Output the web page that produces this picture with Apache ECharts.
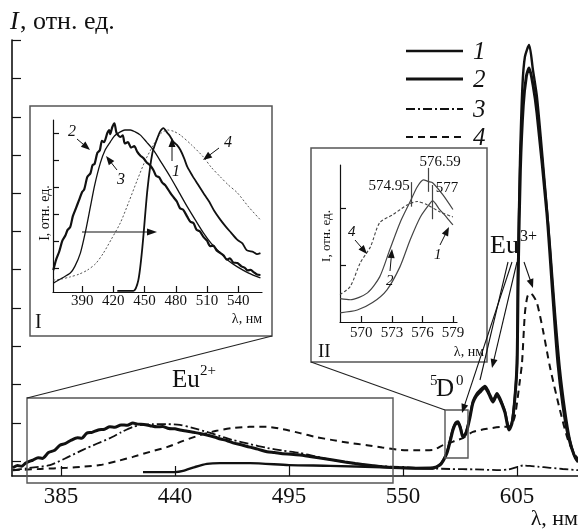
<!DOCTYPE html>
<html><head><meta charset="utf-8">
<script src="https://cdn.jsdelivr.net/npm/echarts@6/dist/echarts.min.js"></script>
<style>html,body{margin:0;padding:0;background:#fff}#c{width:578px;height:531px}</style>
</head><body><div id="c"></div>
<script>
// ---------- DATA ----------
const mainTicks = [385, 440, 495, 550, 605];
const inset1Ticks = [390, 420, 450, 480, 510, 540];
const inset2Ticks = [570, 573, 576, 579];
const legendLabels = ['1', '2', '3', '4'];
const mainYTicks = [0.38, 1.36, 2.34, 3.32, 4.3, 5.29, 6.27, 7.25, 8.23, 9.21, 10.2, 11.18];
const in1YTicks = [0.89, 1.89, 2.89, 3.89, 4.89, 5.89];
const in2YTicks = [1, 2];

// main plot: [wavelength nm, intensity (arb.)]
const main1 = [[424.6,0.10],[440,0.10],[443.9,0.13],[449.6,0.23],[455.4,0.31],[461.7,0.33],[476.2,0.33],[495,0.28],[514.8,0.26],[548.5,0.21],[564.5,0.19],
 [567.8,0.30],[569.5,0.42],[571.2,0.62],[572.8,0.95],[574.1,1.22],[575.3,1.37],[576.5,1.40],[577.7,1.26],[578.9,1.04],[580,1.08],[580.9,1.22],[582.3,1.55],[583.7,1.92],[585.4,2.1],[587.1,2.2],[589.5,2.31],[591,2.2],[592,2.08],[593.4,1.95],[595.3,2.12],[596.8,2.0],[598,1.84],[599.2,1.66],[600.2,1.4],[601.1,1.22],[602.6,1.4],[604,2.05],[605,2.9],[605.5,5.46],[606.4,8.03],[607.6,10.0],[608.8,10.75],[610.8,11.05],[612.7,10.4],[614.6,9.72],[617.5,8.03],[620.9,5.87],[623.3,4.18],[625.7,2.72],[628.1,1.69],[630.5,0.92],[633,0.46],[634.4,0.35]];
const main2 = [[361.8,0.21],[364,0.27],[366,0.25],[368,0.33],[371.5,0.41],[374,0.47],[376,0.45],[379,0.6],[382,0.66],[384.5,0.79],[387,0.83],[390,0.92],[393,0.98],[395,0.97],[397.5,1.1],[400,1.12],[403,1.18],[406,1.2],[408.6,1.26],[411,1.25],[414,1.31],[417,1.3],[419.7,1.36],[422,1.33],[425,1.32],[428,1.29],[431.3,1.26],[434,1.27],[437,1.22],[440,1.21],[442.4,1.18],[446,1.15],[449,1.12],[452,1.09],[455.4,1.05],[459,1.0],[462,0.95],[465,0.91],[468,0.85],[472,0.8],[476,0.74],[480,0.69],[484.4,0.62],[488,0.6],[492,0.57],[496,0.56],[500.3,0.54],[505,0.5],[510,0.46],[516.2,0.41],[522,0.36],[527,0.32],[532.6,0.28],[540,0.24],[548.5,0.21],[556,0.2],[564.5,0.21],
 [567.8,0.28],[569.5,0.4],[571.2,0.59],[572.8,0.9],[574.1,1.18],[575.3,1.33],[576.5,1.36],[577.7,1.22],[578.9,1.0],[580,1.05],[580.9,1.18],[582.3,1.5],[583.7,1.87],[585.4,2.05],[587.1,2.15],[589.5,2.26],[591,2.15],[592,2.03],[593.4,1.9],[595.3,2.08],[596.8,1.95],[598,1.8],[599.2,1.62],[600.2,1.35],[601.1,1.18],[602.6,1.36],[604,2.03],[605,2.9],[605.6,5.3],[606.6,7.85],[608,9.5],[609.5,10.25],[610.8,10.46],[612.7,10.03],[614.6,9.31],[619.4,6.74],[622.3,4.59],[624.7,2.9],[627.1,1.82],[629.6,1.05],[632.5,0.54],[634.4,0.4]];
const main3 = [[361.8,0.15],[369,0.2],[379.7,0.28],[387,0.45],[395.6,0.67],[402,0.82],[408.6,0.97],[414,1.12],[419.7,1.26],[424,1.31],[429.4,1.33],[436,1.33],[442.4,1.31],[448,1.24],[455.4,1.13],[462,1.02],[468,0.92],[476,0.82],[484.4,0.72],[492,0.65],[500.3,0.59],[508,0.5],[516.2,0.41],[524,0.34],[532.6,0.28],[540,0.25],[548.5,0.23],[560,0.2],[572.6,0.18],[585,0.17],[596.8,0.15],[601,0.17],[605,0.23],[608,0.27],[611.2,0.26],[615,0.24],[620.9,0.21],[627,0.18],[634.4,0.15]];
const main4 = [[361.8,0.15],[375,0.18],[387.9,0.21],[396,0.24],[403.8,0.28],[412,0.38],[419.7,0.49],[428,0.62],[436.1,0.74],[444,0.9],[452.1,1.05],[460,1.16],[468,1.23],[476,1.26],[484.4,1.26],[492,1.2],[500.3,1.1],[508,1.0],[516.2,0.92],[524,0.85],[532.6,0.79],[540,0.73],[548.5,0.67],[556,0.66],[564.5,0.67],[569.3,0.79],[572.6,0.85],[576,0.92],[578.9,0.97],[583.7,1.13],[590.5,1.21],[598.2,1.26],[601.6,1.26],[603.5,1.45],[604.5,1.69],[606.4,2.46],[607.4,2.9],[608.8,4.18],[610,4.6],[611.2,4.69],[612.8,4.62],[614.6,4.44],[617.5,3.74],[620.9,2.79],[625.7,1.69],[629.6,0.92],[633,0.54],[634.4,0.45]];

// inset I
const in1c1 = [[423.8,0.04],[439.2,0.04],[444,0.44],[447.9,1.67],[452.7,3.78],[457.5,5.15],[462.3,5.70],[465,5.95],[468.1,6.07],[471.9,5.89],[474,5.8],[477.7,5.56],[481,5.45],[484.4,5.26],[488,4.95],[491.1,4.63],[496,4.3],[501,4.0],[506.5,3.67],[512,3.35],[517,3.0],[522.9,2.67],[528,2.42],[533,2.2],[539.2,1.93],[544,1.8],[548,1.55],[554.6,1.48],[558,1.4],[561.3,1.44]];
const in1c2 = [[362.3,0.81],[365,1.2],[368,1.5],[371,1.9],[374,2.1],[376,2.3],[378.6,2.41],[381,2.8],[384,3.1],[387,3.4],[390,3.7],[392,3.8],[395,4.26],[398,4.4],[400,4.7],[402,4.75],[404.6,5.15],[407,5.25],[409,5.6],[411,5.55],[414.2,5.89],[416,6.0],[417,5.85],[419,6.11],[421,6.25],[423,5.9],[426.7,5.74],[429,5.8],[431,5.5],[434,5.55],[437,5.35],[440,5.4],[443,5.19],[446,5.05],[449,4.95],[452,4.8],[455,4.7],[458.4,4.52],[461,4.3],[464,4.25],[467,4.05],[470,3.95],[474.7,3.67],[478,3.5],[481,3.35],[484,3.1],[487,3.05],[491.1,2.78],[494,2.6],[497,2.55],[500,2.3],[503,2.25],[506.5,2.04],[510,1.9],[513,1.7],[516,1.72],[519,1.55],[522.9,1.44],[526,1.35],[529,1.2],[532,1.25],[535,1.1],[539.2,1.07],[543,0.95],[546,0.9],[549,0.8],[552,0.82],[554.6,0.74],[558,0.65],[561.3,0.63]];
const in1c3 = [[362.3,0.33],[370,0.5],[378.6,0.70],[383,0.95],[388.3,1.44],[393,2.2],[397.9,3.15],[402,3.95],[407.5,4.78],[412,5.25],[417.1,5.56],[421,5.78],[426.7,5.93],[431,6.0],[436.3,6.0],[441,5.93],[446,5.81],[452,5.55],[458.4,5.26],[466,4.8],[474.7,4.26],[483,3.7],[491.1,3.15],[499,2.65],[506.5,2.19],[514,1.8],[522.9,1.44],[530,1.18],[539.2,0.93],[550,0.7],[561.3,0.52]];
const in1c4 = [[362.3,0.44],[370,0.48],[378.6,0.56],[387,0.66],[395,0.81],[403,1.05],[410.4,1.44],[418,1.95],[426.7,2.56],[435,3.35],[443,4.15],[451,4.9],[458.4,5.44],[465,5.85],[471.9,6.0],[478,5.95],[484.4,5.81],[495,5.45],[506.5,5.0],[514,4.62],[522.9,4.26],[530,3.98],[539.2,3.67],[550,3.15],[561.3,2.67]];

// inset II
const in2c1 = [[567.9,0.16],[569.6,0.21],[571.1,0.34],[572.5,0.56],[573.8,0.97],[574.8,1.44],[575.8,1.84],[576.8,2.09],[577.0,2.12],[577.7,1.97],[578.4,1.83],[579.0,1.70]];
const in2c2 = [[567.9,0.41],[568.9,0.39],[570.6,0.51],[571.8,0.79],[572.8,1.27],[573.8,1.74],[574.8,2.11],[575.5,2.37],[576.1,2.49],[576.6,2.46],[577.0,2.44],[578.0,2.23],[579.0,1.97]];
const in2c4 = [[567.9,0.48],[568.9,0.62],[569.9,1.04],[570.9,1.32],[571.8,1.74],[573.1,1.88],[574.5,2.05],[575.5,2.11],[576.5,2.05],[577.7,1.93],[579.0,1.84]];
const peakMarks = [[574.95,2.02,2.45],[576.59,2.28,2.70],[577.0,1.80,2.40]];
const peakLabels = ['574.95','576.59','577'];

// ---------- CHART ----------
const FONT = '"Liberation Serif", "DejaVu Serif", serif';
const chart = echarts.init(document.getElementById('c'), null, {renderer:'canvas'});

function xAx(grid, min, max, ticks, fs, margin){
  return {type:'value', gridIndex:grid, min:min, max:max,
    axisLine:{show:true, onZero:false, lineStyle:{color:'#111', width: grid===0?1.6:1.2}},
    axisTick:{show:true, inside:true, length: grid===0?10:6, customValues:ticks, lineStyle:{color:'#111', width:1.2}},
    axisLabel:{show:true, customValues:ticks, fontFamily:FONT, fontSize:fs, color:'#111', margin:margin},
    splitLine:{show:false}};
}
function yAx(grid, min, max, ticks){
  return {type:'value', gridIndex:grid, min:min, max:max,
    axisLine:{show:true, onZero:false, lineStyle:{color:'#111', width: grid===0?1.6:1.2}},
    axisTick:{show:true, inside:true, length: grid===0?9:6, customValues:ticks, lineStyle:{color:'#111', width:1.2}},
    axisLabel:{show:false}, splitLine:{show:false}};
}
function ln(name, data, xi, width, type, color){
  return {type:'line', name:name, xAxisIndex:xi, yAxisIndex:xi, data:data, showSymbol:false, smooth:0.25,
    silent:true, animation:false, lineStyle:{color:color||'#111', width:width, type:type||'solid'}};
}

const peakMarkLine = {symbol:'none', silent:true, label:{show:false}, lineStyle:{color:'#444', width:1.2, type:'solid'},
  data: peakMarks.map(p=>[{coord:[p[0],p[1]]},{coord:[p[0],p[2]]}])};

const s2 = ln('2', in2c2, 2, 1.2, 'solid', '#444');
s2.markLine = peakMarkLine;

const option = {
  animation:false,
  backgroundColor:'#fff',
  grid:[
    {left:12, top:40, width:566, height:436},
    {left:53, top:120, width:209, height:172},
    {left:340, top:165, width:117, height:157}
  ],
  xAxis:[ xAx(0,361.4,634.4,mainTicks,23,9), xAx(1,362,562.8,inset1Ticks,15,2), xAx(2,567.9,579.4,inset2Ticks,15,4) ],
  yAxis:[ yAx(0,0,11.18,mainYTicks), yAx(1,0,6.37,in1YTicks), yAx(2,0,2.75,in2YTicks) ],
  series:[
    ln('4', main4, 0, 2, [7,5]),
    ln('3', main3, 0, 1.8, [9,3,2,3]),
    ln('1', main1, 0, 2.4),
    ln('2', main2, 0, 3),
    ln('4', in1c4, 1, 1, [2,2], '#555'),
    ln('3', in1c3, 1, 1.3),
    ln('1', in1c1, 1, 1.8),
    ln('2', in1c2, 1, 2.2),
    ln('4', in2c4, 2, 1.1, [3,2], '#444'),
    ln('1', in2c1, 2, 1.2, 'solid', '#444'),
    s2
  ]
};
chart.setOption(option);

// ---------- ANNOTATIONS ----------
const G = [];
function line(x1,y1,x2,y2,w,c){ G.push({type:'line', silent:true, shape:{x1,y1,x2,y2}, style:{stroke:c||'#111', lineWidth:w||1}, z:10}); }
function arrow(x1,y1,x2,y2,w,c,hl,hw){
  c=c||'#111'; hl=hl||9; hw=hw||3.5;
  const dx=x2-x1, dy=y2-y1, L=Math.hypot(dx,dy), ux=dx/L, uy=dy/L;
  const bx=x2-ux*hl, by=y2-uy*hl;
  line(x1,y1,bx+ux*2,by+uy*2,w,c);
  G.push({type:'polygon', silent:true, shape:{points:[[x2,y2],[bx-uy*hw,by+ux*hw],[bx+uy*hw,by-ux*hw]]}, style:{fill:c}, z:10});
}
function rect(x,y,w,h,c,lw){ G.push({type:'rect', silent:true, shape:{x,y,width:w,height:h}, style:{fill:'none', stroke:c||'#444', lineWidth:lw||1.4}, z:5}); }
function text(x,y,t,fs,opt){ opt=opt||{};
  G.push({type:'text', silent:true, x:x, y:y, rotation:opt.rot||0, z:11,
    style:{text:t, font:(opt.italic?'italic ':'')+fs+'px '+FONT, fill:opt.color||'#111', textAlign:opt.align||'left', textVerticalAlign:opt.va||'middle'}}); }

// main axis title
text(10, 22, 'I', 26, {italic:true});
text(20, 22, ', отн. ед.', 26);
text(578, 519, 'λ, нм', 22, {align:'right'});

// legend
const legY = [51, 79, 109, 137];
const legStyles = [{w:2.4,t:'solid'},{w:3,t:'solid'},{w:1.8,t:[9,3,2,3]},{w:2,t:[7,5]}];
legY.forEach((y,i)=>{
  G.push({type:'line', silent:true, shape:{x1:406,y1:y,x2:463,y2:y}, style:{stroke:'#111', lineWidth:legStyles[i].w, lineDash: legStyles[i].t==='solid'?null:legStyles[i].t}, z:10});
  text(473, y+1, legendLabels[i], 25, {italic:true});
});

// boxes
rect(30,106,242,230,'#555',1.5);    // inset I
rect(311,148,176,214,'#555',1.5);   // inset II
rect(27,398,366,85,'#555',1.4);     // Eu2+ region
rect(445,410,23,48,'#555',1.4);     // 5D0 region
line(27,398,272,336,1.1,'#222');
line(445,410,311,362,1.1,'#222');

// labels main
text(172, 380, 'Eu', 25);
text(200, 371, '2+', 15);
text(490, 246, 'Eu', 26);
text(520, 237, '3+', 16);
text(430, 381, '5', 15);
text(436, 389, 'D', 25);
text(456, 381, '0', 15);

// Eu3+ arrows
arrow(512,262,462,413,1.1);
arrow(517,262,492,368,1.1);
line(508,262,480,380,1.1);
arrow(524,262,533,288,1.1);

// inset I annotations
text(45, 213, 'I, отн. ед.', 14, {rot:Math.PI/2, align:'center'});
text(35, 323, 'I', 20);
text(262, 319, 'λ, нм', 14, {align:'right'});
text(68, 132, '2', 16, {italic:true});
arrow(77,139,90,150,1);
text(117, 180, '3', 16, {italic:true});
arrow(117,170,106,156,1);
text(172, 172, '1', 16, {italic:true});
arrow(172,161,172,138,1);
text(224, 143, '4', 16, {italic:true});
arrow(219,148,203,160,1);
arrow(82,232,157,232,1.2,'#111',10,3.5);

// inset II annotations
text(327, 236, 'I, отн. ед.', 13, {rot:Math.PI/2, align:'center'});
text(318, 352, 'II', 19);
text(484, 352, 'λ, нм', 14, {align:'right'});
text(348, 232, '4', 15, {italic:true});
arrow(355,240,367,254,1);
text(386, 281, '2', 15, {italic:true});
arrow(390,271,392,249,1);
text(434, 255, '1', 15, {italic:true});
arrow(440,245,449,227,1);
text(440, 162, peakLabels[1], 15, {align:'center'});
text(389, 186, peakLabels[0], 15, {align:'center'});
text(447, 188, peakLabels[2], 15, {align:'center'});

chart.setOption({graphic:{elements:G}});
</script></body></html>
